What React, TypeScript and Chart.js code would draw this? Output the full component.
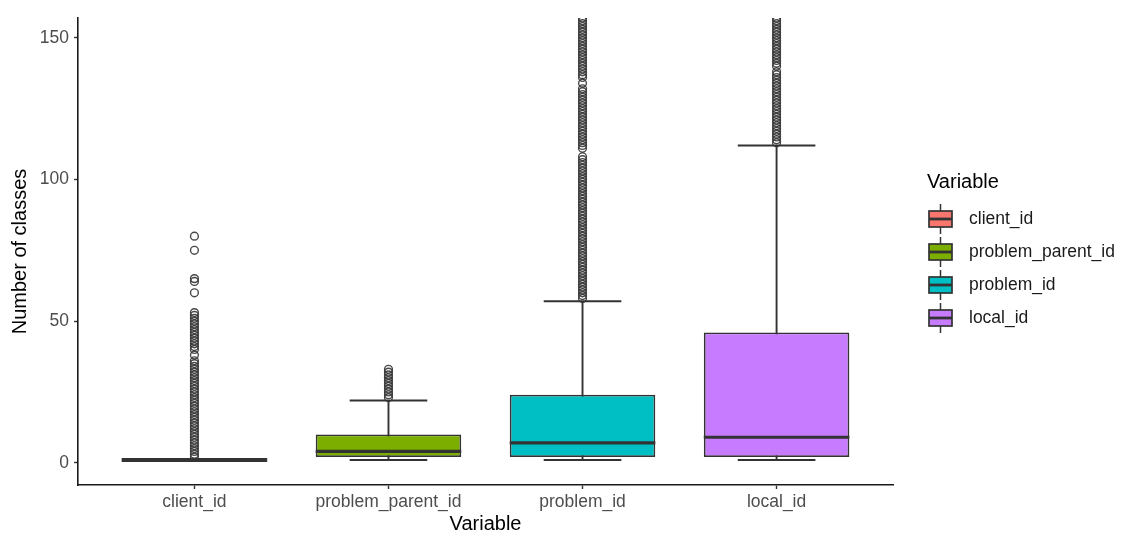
import React, { useEffect, useRef } from 'react';
import { Chart, registerables } from 'chart.js';

Chart.register(...registerables);

const categories = ['client_id', 'problem_parent_id', 'problem_id', 'local_id'];
const lowerWhisker = [1, 1, 1, 1];
const q1 = [1, 2, 2, 2];
const medians = [1, 4, 7, 9];
const q3 = [1, 10, 24, 46];
const upperWhisker = [1, 22, 57, 112];
const fillColors = ['#F8766D', '#7CAE00', '#00BFC4', '#C77CFF'];
const yTicks = [0, 50, 100, 150];

const clientOutliers = [
  2, 3, 4, 5, 6, 7, 8, 9, 10, 11, 12, 13, 14, 15, 16, 17, 18, 19, 20, 21, 22, 23, 24, 25, 26, 27, 28, 29, 30, 31,
  32, 33, 34, 35, 36, 38, 40, 41, 42, 43, 44, 45, 46, 47, 48, 49, 50, 51, 52, 53, 60, 64, 65, 75, 80,
];
const problemParentOutliers = [23, 24, 25, 26, 27, 28, 29, 30, 31, 32, 33];
const problemIdOutliers = [
  58, 59, 60, 61, 62, 63, 64, 65, 66, 67, 68, 69, 70, 71, 72, 73, 74, 75, 76, 77, 78, 79, 80, 81, 82, 83, 84, 85, 86,
  87, 88, 89, 90, 91, 92, 93, 94, 95, 96, 97, 98, 99, 100, 101, 102, 103, 104, 105, 106, 107, 108,
  111, 112, 113, 114, 115, 116, 117, 118, 119, 120, 121, 122, 123, 124, 125, 126, 127, 128, 129, 130, 131, 132,
  134, 136, 137, 138, 139, 140, 141, 142, 143, 144, 145, 146, 147, 148, 149, 150, 151, 152, 153, 154, 155, 156, 157,
];
const localIdOutliers = [
  113, 114, 115, 116, 117, 118, 119, 120, 121, 122, 123, 124, 125, 126, 127, 128, 129, 130, 131, 132, 133, 134, 135,
  136, 137, 138, 140, 141, 142, 143, 144, 145, 146, 147, 148, 149, 150, 151, 152, 153, 154, 155, 156, 157,
];
const outlierGroups = [clientOutliers, problemParentOutliers, problemIdOutliers, localIdOutliers];

const FONT = '"Liberation Sans", Arial, sans-serif';
const LINE = '#333333';

const boxPlugin = {
  id: 'boxParts',
  beforeDatasetsDraw(chart: any) {
    const { ctx, scales } = chart;
    const x = scales.x;
    const y = scales.y;
    ctx.save();
    ctx.strokeStyle = LINE;
    ctx.lineWidth = 1.9;
    categories.forEach((_, i) => {
      const cx = x.getPixelForValue(i + 1);
      const capHalf = x.getPixelForValue(i + 1 + 0.2) - cx;
      const yl = y.getPixelForValue(lowerWhisker[i]);
      const yu = y.getPixelForValue(upperWhisker[i]);
      ctx.beginPath();
      ctx.moveTo(cx, yl);
      ctx.lineTo(cx, yu);
      ctx.moveTo(cx - capHalf, yu);
      ctx.lineTo(cx + capHalf, yu);
      ctx.moveTo(cx - capHalf, yl);
      ctx.lineTo(cx + capHalf, yl);
      ctx.stroke();
    });
    ctx.restore();
  },
  afterDatasetsDraw(chart: any) {
    const { ctx, scales } = chart;
    const x = scales.x;
    const y = scales.y;
    ctx.save();
    ctx.strokeStyle = LINE;
    categories.forEach((_, i) => {
      const cx = x.getPixelForValue(i + 1);
      const half = x.getPixelForValue(i + 1 + 0.375) - cx;
      const ym = y.getPixelForValue(medians[i]);
      ctx.lineWidth = q1[i] === q3[i] ? 4 : 3.2;
      ctx.beginPath();
      ctx.moveTo(cx - half, ym);
      ctx.lineTo(cx + half, ym);
      ctx.stroke();
    });
    ctx.restore();
  },
  afterDraw(chart: any) {
    const { ctx, chartArea } = chart;
    ctx.save();
    ctx.fillStyle = '#000000';
    ctx.font = `20px ${FONT}`;
    ctx.textAlign = 'center';
    ctx.textBaseline = 'middle';
    ctx.fillText('Variable', (chartArea.left + chartArea.right) / 2, 524);
    ctx.save();
    ctx.translate(20, (chartArea.top + chartArea.bottom) / 2);
    ctx.rotate(-Math.PI / 2);
    ctx.fillText('Number of classes', 0, 0);
    ctx.restore();

    // legend
    ctx.textAlign = 'left';
    ctx.fillText('Variable', 927, 182);
    ctx.font = `17.5px ${FONT}`;
    categories.forEach((name, i) => {
      const cy = 219 + 33 * i;
      const kx = 929;
      const kw = 23;
      const kh = 16;
      ctx.strokeStyle = LINE;
      ctx.lineWidth = 1.5;
      ctx.beginPath();
      ctx.moveTo(kx + kw / 2, cy - 15);
      ctx.lineTo(kx + kw / 2, cy + 15);
      ctx.stroke();
      ctx.fillStyle = fillColors[i];
      ctx.fillRect(kx, cy - kh / 2, kw, kh);
      ctx.lineWidth = 1.7;
      ctx.strokeRect(kx, cy - kh / 2, kw, kh);
      ctx.lineWidth = 2.8;
      ctx.beginPath();
      ctx.moveTo(kx, cy);
      ctx.lineTo(kx + kw, cy);
      ctx.stroke();
      ctx.fillStyle = '#1a1a1a';
      ctx.fillText(name, 969, cy);
    });
    ctx.restore();
  },
};

export default function App() {
  const canvasRef = useRef<HTMLCanvasElement | null>(null);

  useEffect(() => {
    document.body.style.margin = '0';
    const canvas = canvasRef.current;
    if (!canvas) return;

    const outlierPoints: { x: number; y: number }[] = [];
    outlierGroups.forEach((vals, i) => vals.forEach((v) => outlierPoints.push({ x: i + 1, y: v })));

    const tickFont = { family: FONT, size: 17.5 };

    const chart = new Chart(canvas, {
      type: 'bar',
      data: {
        datasets: [
          {
            type: 'scatter',
            data: outlierPoints,
            pointStyle: 'circle',
            pointRadius: 3.9,
            pointBorderWidth: 1.4,
            pointBackgroundColor: 'rgba(0,0,0,0)',
            pointBorderColor: 'rgba(51,51,51,0.9)',
            pointHoverRadius: 3.9,
          } as any,
          {
            type: 'bar',
            data: categories.map((_, i) => ({ x: i + 1, y: [q1[i], q3[i]] })) as any,
            backgroundColor: fillColors,
            borderColor: LINE,
            borderWidth: 1.8,
            borderSkipped: false,
            barPercentage: 0.75,
            categoryPercentage: 1,
          } as any,
        ],
      },
      options: {
        responsive: false,
        animation: false,
        layout: { padding: { left: 0, top: 18, right: 232, bottom: 0 } },
        plugins: {
          legend: { display: false },
          tooltip: { enabled: false },
        },
        scales: {
          x: {
            type: 'linear',
            min: 0.4,
            max: 4.6,
            offset: false,
            afterBuildTicks: (s: any) => {
              s.ticks = categories.map((_, i) => ({ value: i + 1 }));
            },
            afterFit: (s: any) => {
              s.height = 52;
            },
            ticks: {
              autoSkip: false,
              maxRotation: 0,
              padding: 3,
              color: '#4D4D4D',
              font: tickFont,
              callback: (v: any) => categories[Number(v) - 1] ?? '',
            },
            grid: {
              offset: false,
              drawOnChartArea: false,
              drawTicks: true,
              tickLength: 4,
              tickColor: LINE,
              tickWidth: 1.4,
            },
            border: { display: true, color: '#1a1a1a', width: 1.6 },
          },
          y: {
            type: 'linear',
            min: -7.85,
            max: 157,
            afterBuildTicks: (s: any) => {
              s.ticks = yTicks.map((v) => ({ value: v }));
            },
            afterFit: (s: any) => {
              s.width = 78;
            },
            ticks: {
              padding: 5,
              color: '#4D4D4D',
              font: tickFont,
            },
            grid: {
              drawOnChartArea: false,
              drawTicks: true,
              tickLength: 4,
              tickColor: LINE,
              tickWidth: 1.4,
            },
            border: { display: true, color: '#1a1a1a', width: 1.6 },
          },
        },
      } as any,
      plugins: [boxPlugin],
    });

    return () => chart.destroy();
  }, []);

  return (
    <div style={{ width: 1125, height: 537, background: '#ffffff' }}>
      <canvas ref={canvasRef} width={1125} height={537} style={{ display: 'block' }} />
    </div>
  );
}
